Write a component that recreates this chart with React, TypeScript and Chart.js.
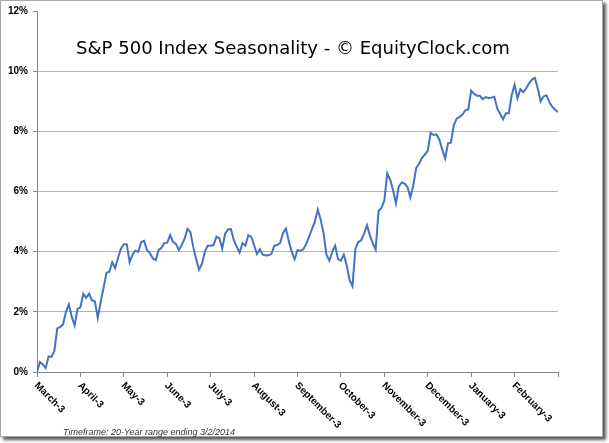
import React, { useEffect, useRef } from "react";
import { Chart, registerables } from "chart.js";

Chart.register(...registerables);

const titleText = "S&P 500 Index Seasonality - \u00A9 EquityClock.com";
const footerText = "Timeframe: 20-Year range ending 3/2/2014";

const monthLabels = [
  "March-3", "April-3", "May-3", "June-3", "July-3", "August-3",
  "September-3", "October-3", "November-3", "December-3", "January-3", "February-3",
];

const yTicks = [0, 2, 4, 6, 8, 10, 12];

// average cumulative return (%), 15 readings per month, March-3 through end of February
const seasonality = [
  0.0, 0.33, 0.25, 0.13, 0.52, 0.5, 0.7, 1.45, 1.5, 1.58, 2.0, 2.25, 1.84, 1.55, 2.1,
  2.15, 2.6, 2.47, 2.6, 2.38, 2.35, 1.8, 2.33, 2.8, 3.3, 3.33, 3.65, 3.45, 3.8, 4.1,
  4.25, 4.25, 3.65, 3.9, 4.03, 4.0, 4.32, 4.36, 4.05, 3.95, 3.78, 3.72, 4.05, 4.13, 4.29,
  4.3, 4.55, 4.33, 4.26, 4.05, 4.22, 4.43, 4.76, 4.65, 4.15, 3.75, 3.4, 3.6, 4.0, 4.2,
  4.2, 4.22, 4.5, 4.45, 4.1, 4.6, 4.74, 4.75, 4.38, 4.17, 3.97, 4.28, 4.2, 4.55, 4.5,
  4.22, 3.92, 4.08, 3.9, 3.87, 3.88, 3.93, 4.2, 4.22, 4.29, 4.62, 4.77, 4.35, 4.0, 3.75,
  4.05, 4.03, 4.08, 4.25, 4.5, 4.75, 5.0, 5.4, 5.07, 4.62, 3.9, 3.7, 3.99, 4.2, 3.75,
  3.7, 3.9, 3.55, 3.05, 2.85, 4.1, 4.32, 4.38, 4.6, 4.88, 4.55, 4.28, 4.07, 5.35, 5.45,
  5.7, 6.6, 6.4, 6.05, 5.6, 6.17, 6.3, 6.26, 6.15, 5.8, 6.2, 6.78, 6.92, 7.12, 7.23,
  7.35, 7.95, 7.88, 7.9, 7.72, 7.4, 7.1, 7.6, 7.62, 8.2, 8.42, 8.48, 8.56, 8.7, 8.73,
  9.35, 9.25, 9.18, 9.18, 9.07, 9.14, 9.1, 9.12, 9.15, 8.76, 8.58, 8.4, 8.6, 8.6, 9.2,
  9.55, 9.1, 9.4, 9.3, 9.43, 9.6, 9.72, 9.78, 9.43, 9.0, 9.16, 9.2, 8.97, 8.82, 8.72,
  8.64,
];

const pointsPerMonth = 15;

const overlayPlugin = {
  id: "overlay",
  afterDraw(chart: any) {
    const { ctx, chartArea } = chart;
    const xs = chart.scales.x;
    ctx.save();
    // rotated month labels, descending to the right from each tick
    ctx.fillStyle = "#000";
    ctx.font = "bold 10px 'Liberation Sans', Arial, sans-serif";
    ctx.textAlign = "left";
    ctx.textBaseline = "middle";
    monthLabels.forEach((lab, k) => {
      const px = xs.getPixelForValue(k * pointsPerMonth);
      ctx.save();
      ctx.translate(px - 1, chartArea.bottom + 12);
      ctx.rotate(Math.PI / 4);
      ctx.fillText(lab, 0, 0);
      ctx.restore();
    });
    // title (overlaid inside the plot, as in the original)
    ctx.font = "18px 'DejaVu Sans', sans-serif";
    const w = ctx.measureText(titleText).width;
    const size = (18 * 434) / w;
    ctx.font = `${size.toFixed(2)}px 'DejaVu Sans', sans-serif`;
    ctx.textAlign = "center";
    ctx.textBaseline = "alphabetic";
    ctx.fillStyle = "#000";
    ctx.fillText(titleText, 293, 54);
    // footer
    ctx.font = "italic 9px 'Liberation Sans', Arial, sans-serif";
    ctx.textAlign = "left";
    ctx.fillStyle = "#333";
    ctx.fillText(footerText, 63, 435);
    ctx.restore();
  },
};

export default function App() {
  const ref = useRef<HTMLCanvasElement | null>(null);

  useEffect(() => {
    document.body.style.margin = "0";
    const canvas = ref.current;
    if (!canvas) return;
    const chart = new Chart(canvas, {
      type: "line",
      data: {
        datasets: [
          {
            data: seasonality.map((v, i) => ({ x: i, y: v })),
            borderColor: "#4472C4",
            borderWidth: 2,
            pointRadius: 0,
            tension: 0,
            fill: false,
          },
        ],
      },
      options: {
        animation: false,
        responsive: false,
        devicePixelRatio: 1,
        layout: { padding: { left: 0, top: 11, right: 51, bottom: 0 } },
        plugins: {
          legend: { display: false },
          tooltip: { enabled: false },
          title: { display: false },
        },
        scales: {
          x: {
            type: "linear",
            min: 0,
            max: monthLabels.length * pointsPerMonth,
            afterBuildTicks: (s: any) => {
              s.ticks = Array.from({ length: monthLabels.length + 1 }, (_, k) => ({ value: k * pointsPerMonth }));
            },
            afterFit: (s: any) => {
              s.height = 71;
            },
            ticks: { display: false, autoSkip: false },
            grid: {
              drawOnChartArea: false,
              drawTicks: true,
              tickLength: 5,
              tickColor: "#868686",
            },
            border: { display: true, color: "#868686", width: 1 },
          },
          y: {
            type: "linear",
            min: 0,
            max: 12,
            afterBuildTicks: (s: any) => {
              s.ticks = yTicks.map((v) => ({ value: v }));
            },
            afterFit: (s: any) => {
              s.width = 37;
            },
            ticks: {
              autoSkip: false,
              padding: 5,
              color: "#000",
              font: { family: "'Liberation Sans', Arial, sans-serif", size: 10, weight: "bold" },
              callback: (v: any) => `${v}%`,
            },
            grid: {
              color: (c: any) => (c.tick && c.tick.value === 12 ? "rgba(0,0,0,0)" : "#b3b3b3"),
              lineWidth: 1,
              drawTicks: true,
              tickLength: 4,
              tickColor: "#868686",
            },
            border: { display: true, color: "#868686", width: 1 },
          },
        },
      },
      plugins: [overlayPlugin],
    });
    return () => chart.destroy();
  }, []);

  return (
    <div style={{ position: "relative", width: 609, height: 443, background: "#fff", overflow: "hidden" }}>
      <div
        style={{
          position: "absolute",
          left: 0,
          top: 0,
          width: 601,
          height: 435,
          border: "1px solid #a6a6a6",
          boxShadow: "3px 3px 3px rgba(0,0,0,0.65)",
          background: "#fff",
        }}
      />
      <canvas ref={ref} width={609} height={443} style={{ position: "absolute", left: 0, top: 0, width: 609, height: 443 }} />
    </div>
  );
}
